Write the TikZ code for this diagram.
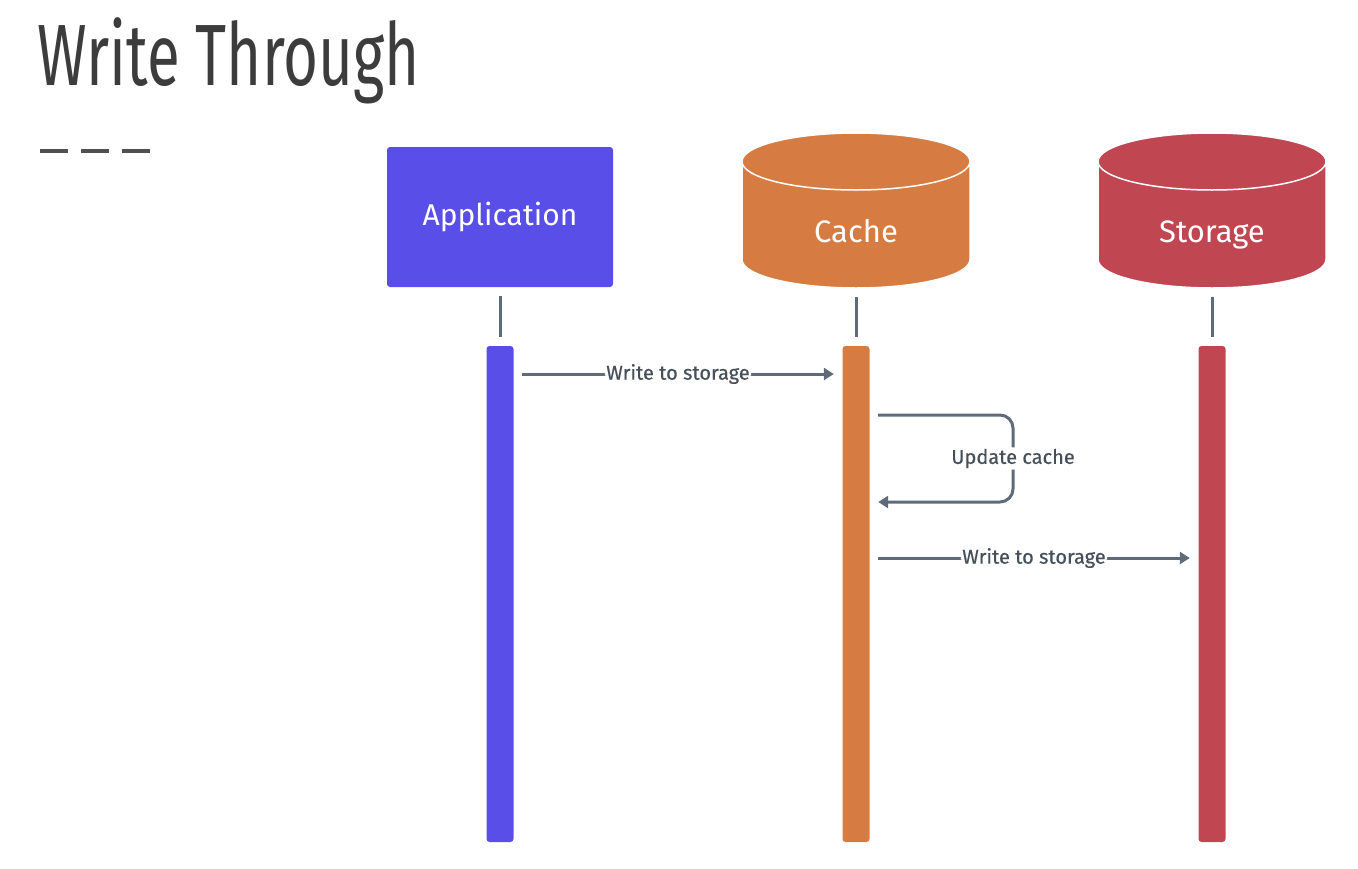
\documentclass[tikz,border=0pt]{standalone}
\usepackage{fontspec}
\setmainfont{Fira Sans}
\newfontfamily\titlefont[FakeStretch=0.69]{Fira Sans}
\newfontfamily\msgfont[FakeBold=0.5]{Fira Sans}
\usetikzlibrary{arrows.meta,shapes.geometric}
\definecolor{appblue}{RGB}{90,78,232}
\definecolor{cacheorange}{RGB}{214,124,66}
\definecolor{storagered}{RGB}{192,70,82}
\definecolor{wiregray}{RGB}{95,107,120}
\definecolor{titlegray}{RGB}{60,60,60}
\definecolor{msggray}{RGB}{70,80,90}

\begin{document}
\begin{tikzpicture}[x=1pt, y=-1pt,
actor/.style = {rectangle, rounded corners=3pt, fill=appblue, text=white,
	minimum width=226pt, minimum height=140pt, font=\fontsize{30}{33}\selectfont},
store/.style = {cylinder, shape border rotate=90, aspect=0.45, draw=white,
	line width=1.5pt, minimum width=228pt, minimum height=155pt,
	text width=120pt, text height=21pt, text depth=6pt, anchor=shape center},
storename/.style = {anchor=base, text=white, inner sep=0pt,
	font=\fontsize{31}{34}\selectfont},
lifebar/.style = {rectangle, rounded corners=3pt, minimum width=27pt,
	minimum height=496pt, inner sep=0pt},
stub/.style = {draw=wiregray, line width=3pt, shorten <=8.5pt, shorten >=8.5pt},
msg/.style = {draw=wiregray, line width=3pt, rounded corners=13pt,
	-{Triangle[length=10pt,width=12pt]}, shorten <=8.5pt, shorten >=8.5pt},
msglabel/.style = {fill=white, text=msggray, inner sep=1.5pt,
	font=\msgfont\fontsize{20}{22}\selectfont}]
\path[use as bounding box] (0,0) rectangle (1358,868);

\node[anchor=base west, text=titlegray, inner sep=0pt,
	font=\titlefont\fontsize{87}{90}\selectfont] (title) at (37,85) {Write Through};
\draw[titlegray!90, line width=4pt, dash pattern=on 28pt off 13pt] (40,151) -- (153,151);

\node[actor] (app) at (500,217) {Application};
\node[store, fill=cacheorange] (cache) at (856,210.5) {};
\node[store, fill=storagered] (storage) at (1212,210.5) {};
\node[storename] (cachename) at ([yshift=-31.5pt]cache.shape center) {Cache};
\node[storename] (storagename) at ([yshift=-31.5pt]storage.shape center) {Storage};

\node[lifebar, fill=appblue] (appbar) at (500,594) {};
\node[lifebar, fill=cacheorange] (cachebar) at (856,594) {};
\node[lifebar, fill=storagered] (storagebar) at (1212,594) {};

\draw[stub] (app) -- (appbar);
\draw[stub] (cache.bottom) -- (cachebar);
\draw[stub] (storage.bottom) -- (storagebar);

\coordinate (w1) at (0,374);
\coordinate (u1) at (0,415);
\coordinate (u2) at (0,502);
\coordinate (w2) at (0,558);
\coordinate (turn) at (1013,0);

\draw[msg] (appbar.east |- w1) -- (cachebar.west |- w1)
	node[msglabel, midway] {Write to storage};
\draw[msg] (cachebar.east |- u1) -- (turn |- u1) -- (turn |- u2)
	node[msglabel, midway] {Update cache} -- (cachebar.east |- u2);
\draw[msg] (cachebar.east |- w2) -- (storagebar.west |- w2)
	node[msglabel, midway] {Write to storage};
\end{tikzpicture}
\end{document}
